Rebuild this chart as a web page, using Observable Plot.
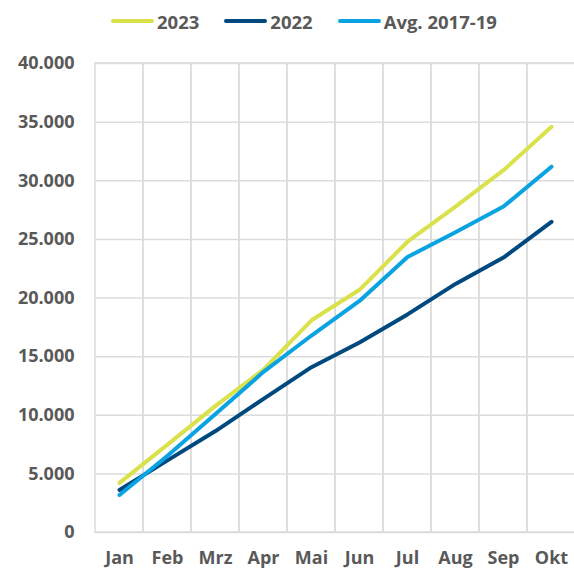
<!DOCTYPE html>
<html>
<head>
<meta charset="utf-8">
<script src="https://cdn.jsdelivr.net/npm/d3@7"></script>
<script src="https://cdn.jsdelivr.net/npm/@observablehq/plot@0.6"></script>
<style>
  html, body { margin: 0; padding: 0; background: #fff; overflow: hidden; }
  body { font-family: "Open Sans", sans-serif; width: 574px; height: 570px; }
  #legend { height: 42px; display: flex; align-items: center; padding-left: 111px; box-sizing: border-box; font-weight: 700; font-size: 18.5px; color: #595959; }
  .item { display: flex; align-items: center; margin-right: 25px; }
  .sw { width: 43px; height: 4px; border-radius: 2px; margin-right: 3px; }
</style>
</head>
<body>
<div id="legend"></div>
<div id="chart"></div>
<script>
const months = ["Jan", "Feb", "Mrz", "Apr", "Mai", "Jun", "Jul", "Aug", "Sep", "Okt"];
const seriesNames = ["2023", "2022", "Avg. 2017-19"];
const values2023 = [4230, 7500, 10800, 13900, 18100, 20700, 24800, 27800, 30900, 34600];
const values2022 = [3630, 6150, 8650, 11400, 14100, 16200, 18600, 21200, 23450, 26500];
const valuesAvg = [3200, 6550, 10100, 13700, 16800, 19750, 23500, 25600, 27800, 31200];
const colors = ["#dae14b", "#00497f", "#0aa3e2"];
const yTicks = [0, 5000, 10000, 15000, 20000, 25000, 30000, 35000, 40000];

const allSeries = [values2023, values2022, valuesAvg];
const data = [];
seriesNames.forEach((s, i) => months.forEach((m, j) => data.push({series: s, month: m, value: allSeries[i][j]})));

// legend
const legend = document.getElementById("legend");
seriesNames.forEach((s, i) => {
  const it = document.createElement("div");
  it.className = "item";
  const sw = document.createElement("div");
  sw.className = "sw";
  sw.style.background = colors[i];
  const t = document.createElement("span");
  t.textContent = s;
  it.appendChild(sw); it.appendChild(t);
  legend.appendChild(it);
});

const fmt = d => d3.format(",")(d).replace(/,/g, ".");

const chart = Plot.plot({
  width: 574,
  height: 528,
  marginTop: 21,
  marginBottom: 38,
  marginLeft: 95,
  marginRight: -1,
  style: {fontFamily: "'Open Sans', sans-serif", fontSize: "18px", fontWeight: 700, color: "#595959", background: "#fff"},
  x: {type: "band", domain: months, padding: 0, label: null, tickSize: 0, tickPadding: 19},
  y: {domain: [0, 40000], ticks: yTicks, tickFormat: fmt, label: null, tickSize: 0, tickPadding: 21},
  color: {domain: seriesNames, range: colors},
  marks: [
    Plot.gridY(yTicks, {stroke: "#dcdcdc", strokeOpacity: 1, strokeWidth: 1.5}),
    Plot.cell(months, {x: d => d, fill: "none", stroke: "#dcdcdc", strokeWidth: 1.5}),
    Plot.line(data, {x: "month", y: "value", z: "series", stroke: "series", strokeWidth: 4, strokeLinecap: "round", strokeLinejoin: "round"}),
    Plot.axisY({ticks: yTicks, tickFormat: fmt, tickSize: 0, tickPadding: 21, fill: "#595959", label: null}),
    Plot.axisX({tickSize: 0, tickPadding: 19, fill: "#595959", label: null})
  ]
});
document.getElementById("chart").appendChild(chart);
</script>
</body>
</html>
